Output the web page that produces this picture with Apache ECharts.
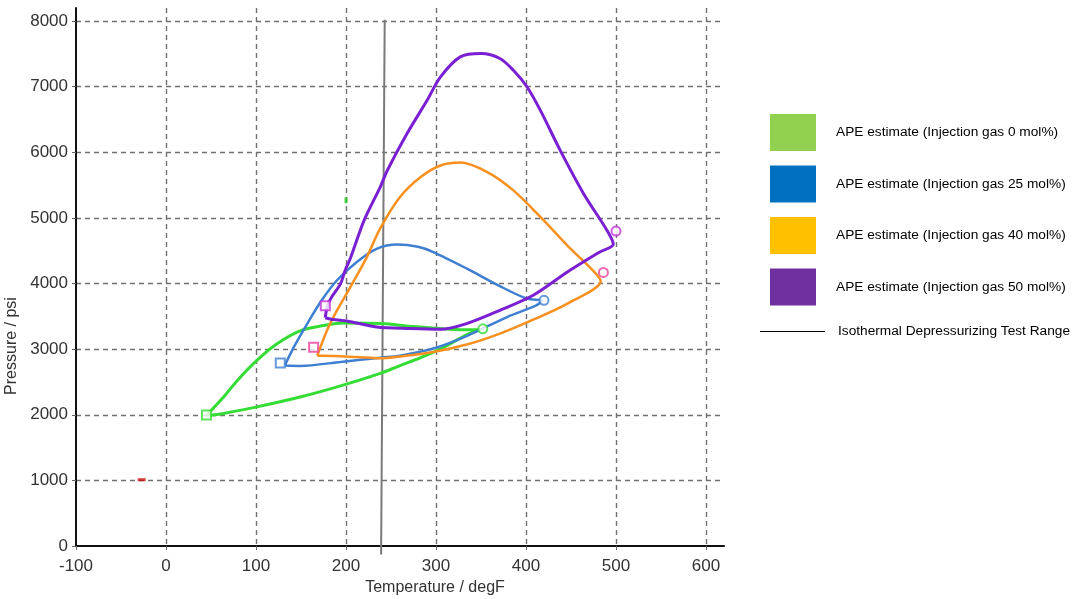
<!DOCTYPE html>
<html>
<head>
<meta charset="utf-8">
<title>APE estimate phase envelopes</title>
<script src="https://cdn.jsdelivr.net/npm/echarts@6.0.0/dist/echarts.min.js"></script>
<style>
  html, body { margin: 0; padding: 0; background: #fff; }
  #main { width: 1079px; height: 599px; }
</style>
</head>
<body>
<div id="main"></div>
<script>
// traced envelopes, [temperature degF, pressure psi], going round each loop
const gas0 = [
  [45, 1990], [64, 2270], [79, 2520], [101, 2830], [123, 3080], [149, 3280],
  [175, 3360], [197, 3400], [240, 3390], [271, 3350], [300, 3320], [330, 3295],
  [350, 3300], [334, 3220], [310, 3040], [283, 2870], [260, 2750], [238, 2630],
  [194, 2440], [149, 2270], [101, 2120], [64, 2020], [45, 1990]
]
const gas25 = [
  [132, 2750], [142, 3030], [157, 3390], [173, 3745], [190, 4050], [212, 4330],
  [234, 4530], [257, 4595], [280, 4560], [297, 4480], [334, 4230], [371, 3960],
  [401, 3770], [418, 3740], [412, 3670], [379, 3490], [334, 3200], [297, 3010],
  [260, 2900], [238, 2870], [194, 2805], [149, 2745], [132, 2750]
]
const gas40 = [
  [168, 2900], [179, 3290], [190, 3590], [205, 3950], [223, 4400], [238, 4840],
  [260, 5320], [283, 5625], [305, 5800], [327, 5845], [357, 5700], [386, 5420],
  [416, 5015], [446, 4580], [475, 4190], [483, 4040], [446, 3695], [408, 3450],
  [371, 3238], [334, 3070], [297, 2957], [260, 2890], [238, 2860], [212, 2880],
  [175, 2900], [168, 2900]
]
const gas50 = [
  [177, 3480], [179, 3643], [183, 3770], [194, 4000], [199, 4200], [205, 4390],
  [220, 4960], [238, 5470], [246, 5727], [268, 6290], [290, 6790], [305, 7150],
  [327, 7455], [350, 7505], [371, 7430], [386, 7250], [401, 7000], [416, 6640],
  [438, 6030], [464, 5370], [490, 4810], [497, 4600], [482, 4482], [446, 4177],
  [408, 3822], [371, 3593], [334, 3390], [305, 3303], [271, 3314], [234, 3338],
  [201, 3430], [186, 3451], [177, 3480]
]
// small open markers drawn at each cusp and tip
const marks0 = [[45, 1995], [352, 3310]]
const marks25 = [[127, 2790], [420, 3745]]
const marks40 = [[164, 3030], [486, 4170]]
const marks50 = [[177, 3660], [500, 4800]]
const strayGreen = [[200, 5270]]
const strayRed = [[-27, 1010]]
// test range line
const testRange = [[243, 8020], [239, -130]]

const names = [
  "APE estimate (Injection gas 0 mol%)",
  "APE estimate (Injection gas 25 mol%)",
  "APE estimate (Injection gas 40 mol%)",
  "APE estimate (Injection gas 50 mol%)"
]
const rangeName = "Isothermal Depressurizing Test Range"
const lineColors = ["#35dc35", "#3f7fd2", "#f7901e", "#7a1fd2"]
const keyColors = ["#92d050", "#0070c0", "#ffc000", "#7030a0"]

const chart = echarts.init(document.getElementById("main"), null, { renderer: "canvas" })

const envelope = (name, data, color, width) => ({
  name: name,
  type: "line",
  data: data,
  showSymbol: false,
  smooth: 0.3,
  lineStyle: { color: color, width: width },
  itemStyle: { color: color },
  z: 3
})

const markers = (name, data, color) => ({
  name: name,
  type: "scatter",
  data: data,
  symbol: (val, params) => (params.dataIndex === 0 ? "emptyRect" : "emptyCircle"),
  symbolSize: 9,
  itemStyle: { color: color, borderColor: color, borderWidth: 1.5 },
  z: 4
})

const gridLine = { show: true, lineStyle: { color: "#707070", width: 1.4, type: [5, 4] } }
const axisFont = { fontFamily: "Liberation Sans", fontSize: 17, color: "#333" }
const legendFont = { fontFamily: "Liberation Sans", fontSize: 13.7, color: "#000" }

const option = {
  backgroundColor: "#fff",
  animation: false,
  grid: { left: 76, right: 355, top: 8, bottom: 53, outerBoundsMode: "none", containLabel: false },
  xAxis: {
    type: "value",
    min: -100,
    max: 620,
    interval: 100,
    name: "Temperature / degF",
    nameLocation: "middle",
    nameGap: 34,
    nameTextStyle: Object.assign({}, axisFont, { fontSize: 16, padding: [0, 0, 0, 70] }),
    axisLine: { onZero: false, lineStyle: { color: "#111", width: 2 } },
    axisTick: { show: true, length: 4, lineStyle: { color: "#666" } },
    axisLabel: Object.assign({}, axisFont, { margin: 12, showMaxLabel: false, formatter: v => String(v) }),
    splitLine: Object.assign({ showMinLine: false, showMaxLine: false }, gridLine)
  },
  yAxis: {
    type: "value",
    min: 0,
    max: 8200,
    interval: 1000,
    name: "Pressure / psi",
    nameLocation: "middle",
    nameGap: 44,
    nameRotate: 90,
    nameTextStyle: Object.assign({}, axisFont, { fontSize: 16, padding: [0, 138, 0, 0] }),
    axisLine: { onZero: false, lineStyle: { color: "#111", width: 2 } },
    axisTick: { show: true, length: 4, lineStyle: { color: "#666" } },
    axisLabel: Object.assign({}, axisFont, { margin: 8, showMaxLabel: false, formatter: v => String(v) }),
    splitLine: Object.assign({ showMinLine: false, showMaxLine: false }, gridLine)
  },
  legend: [
    {
      orient: "vertical",
      left: 765,
      top: 109,
      icon: "rect",
      itemWidth: 46,
      itemHeight: 37,
      itemGap: 14.5,
      selectedMode: false,
      textStyle: Object.assign({}, legendFont, { padding: [0, 0, 0, 15] }),
      data: names.map((n, i) => ({ name: n, itemStyle: { color: keyColors[i] } }))
    },
    {
      left: 755,
      top: 319.5,
      icon: "rect",
      itemWidth: 65,
      itemHeight: 1,
      selectedMode: false,
      textStyle: Object.assign({}, legendFont, { padding: [0, 0, 0, 8] }),
      data: [rangeName]
    }
  ],
  series: [
    envelope(names[0], gas0, lineColors[0], 3),
    envelope(names[1], gas25, lineColors[1], 2.5),
    envelope(names[2], gas40, lineColors[2], 2.5),
    envelope(names[3], gas50, lineColors[3], 3),
    markers("marks0", marks0, lineColors[0]),
    markers("marks25", marks25, lineColors[1]),
    markers("marks40", marks40, "#e8409a"),
    markers("marks50", marks50, "#c030d8"),
    {
      name: "stray0",
      type: "scatter",
      data: strayGreen,
      symbol: "rect",
      symbolSize: [3, 6],
      itemStyle: { color: "#22cc22" }
    },
    {
      name: "strayRed",
      type: "scatter",
      data: strayRed,
      symbol: "rect",
      symbolSize: [8, 3],
      itemStyle: { color: "#cc1111" }
    },
    // key entry for the test range (thin black in the key)
    {
      name: rangeName,
      type: "line",
      data: [],
      showSymbol: false,
      lineStyle: { color: "#000", width: 1 },
      itemStyle: { color: "#000" }
    },
    {
      name: "rangeLine",
      type: "line",
      data: testRange,
      showSymbol: false,
      clip: false,
      lineStyle: { color: "#7a7a7a", width: 2 },
      itemStyle: { color: "#7a7a7a" },
      z: 2
    }
  ]
}

chart.setOption(option)
window.addEventListener("resize", chart.resize)
</script>
</body>
</html>
